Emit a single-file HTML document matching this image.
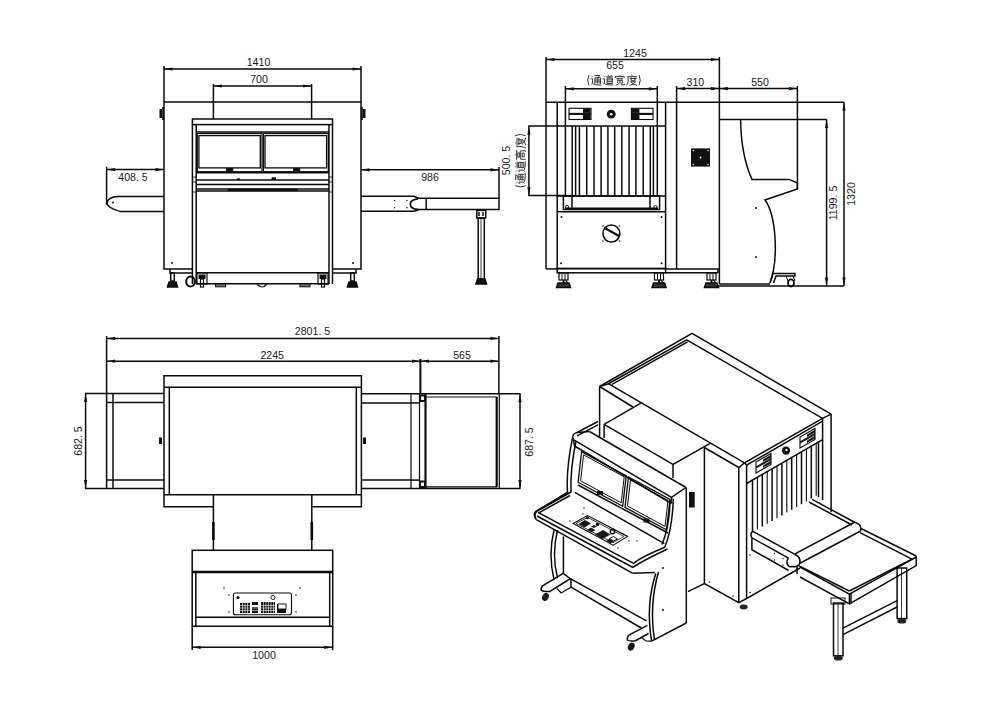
<!DOCTYPE html>
<html><head><meta charset="utf-8"><style>
html,body{margin:0;padding:0;background:#fff;width:1000px;height:707px;overflow:hidden}
svg{display:block}
text{font-family:"Liberation Sans",sans-serif;fill:#1a1a1a;stroke:none}
</style></head><body>
<svg width="1000" height="707" viewBox="0 0 1000 707">
<g stroke="#0a0a0a" stroke-width="1.5" fill="none" stroke-linejoin="miter" stroke-linecap="butt">
<path d="M164.0,69.0 L361.0,69.0" fill="none"/>
<path d="M164.0,69.0 L172.5,67.4 L172.5,70.6Z" fill="#111" stroke="none"/>
<path d="M361.0,69.0 L352.5,70.6 L352.5,67.4Z" fill="#111" stroke="none"/>
<text x="258.5" y="66" font-size="10.6" text-anchor="middle">1410</text>
<path d="M164.0,66.0 L164.0,102.0" fill="none"/>
<path d="M361.0,66.0 L361.0,102.0" fill="none"/>
<path d="M213.4,86.0 L311.6,86.0" fill="none"/>
<path d="M213.4,86.0 L221.9,84.4 L221.9,87.6Z" fill="#111" stroke="none"/>
<path d="M311.6,86.0 L303.1,87.6 L303.1,84.4Z" fill="#111" stroke="none"/>
<text x="259" y="83" font-size="10.6" text-anchor="middle">700</text>
<path d="M213.4,84.0 L213.4,119.0" fill="none"/>
<path d="M311.6,84.0 L311.6,119.0" fill="none"/>
<path d="M192.4,269.0 L164.0,269.0 L164.0,102.0 L361.0,102.0 L361.0,269.0 L332.5,269.0" fill="none"/>
<rect x="159.5" y="109.0" width="2.5" height="9.0" fill="#111" stroke="none"/>
<path d="M163.0,107.0 L163.0,120.0" fill="none" stroke-width="1.6"/>
<rect x="363.0" y="109.0" width="2.5" height="9.0" fill="#111" stroke="none"/>
<path d="M362.0,107.0 L362.0,120.0" fill="none" stroke-width="1.6"/>
<path d="M170.0,269.0 L170.0,273.0 L192.0,273.0" fill="none"/>
<path d="M356.0,269.0 L356.0,273.0 L333.0,273.0" fill="none"/>
<rect x="170.7" y="273.0" width="3.6" height="8.0" fill="none"/>
<path d="M167.5,287 L169.0,282 L176.0,282 L177.5,287Z" fill="#111"/>
<rect x="350.7" y="273.0" width="3.6" height="8.0" fill="none"/>
<path d="M347.5,287 L349.0,282 L356.0,282 L357.5,287Z" fill="#111"/>
<circle cx="172.0" cy="263.0" r="1.0" fill="#111" stroke="none"/>
<circle cx="353.0" cy="263.0" r="1.0" fill="#111" stroke="none"/>
<path d="M164,196.6 L118,196.6 Q108,197 107,203 Q107.5,208 120,211.4 L164,211.4" fill="none"/>
<circle cx="113.0" cy="202.5" r="1.0" fill="#111" stroke="none"/>
<path d="M106.6,169.6 L164.0,169.6" fill="none"/>
<path d="M106.6,169.6 L115.1,168.0 L115.1,171.2Z" fill="#111" stroke="none"/>
<path d="M164.0,169.6 L155.5,171.2 L155.5,168.0Z" fill="#111" stroke="none"/>
<path d="M106.6,167.0 L106.6,205.0" fill="none"/>
<text x="133" y="180.6" font-size="10.6" text-anchor="middle">408. 5</text>
<path d="M361,196.2 L414,196.2 L418.5,198.3" fill="none"/>
<path d="M361,211.3 L413,211.3 Q416.5,211 418.5,209.6" fill="none"/>
<path d="M418,198.8 Q410.3,199.5 410.3,204.2 Q410.5,209 418,209.4" fill="none" stroke-width="1.7"/>
<path d="M418,198.3 L499,198.3 L499,209.6 L418,209.6" fill="none"/>
<path d="M426.2,198.3 L426.2,209.6" fill="none"/>
<circle cx="394.6" cy="200.5" r="0.7" fill="#111" stroke="none"/>
<circle cx="394.6" cy="207.8" r="0.7" fill="#111" stroke="none"/>
<circle cx="406.9" cy="200.5" r="0.7" fill="#111" stroke="none"/>
<circle cx="406.9" cy="207.8" r="0.7" fill="#111" stroke="none"/>
<path d="M361.0,169.8 L499.0,169.8" fill="none"/>
<path d="M361.0,169.8 L369.5,168.2 L369.5,171.4Z" fill="#111" stroke="none"/>
<path d="M499.0,169.8 L490.5,171.4 L490.5,168.2Z" fill="#111" stroke="none"/>
<path d="M499.0,167.0 L499.0,198.5" fill="none"/>
<text x="430" y="180.7" font-size="10.6" text-anchor="middle">986</text>
<rect x="476.8" y="210.4" width="8.9" height="7.6" fill="none"/>
<path d="M479.0,212.0 L479.0,216.0" fill="none"/>
<path d="M483.0,212.0 L483.0,216.0" fill="none"/>
<rect x="478.2" y="218.0" width="6.1" height="61.0" fill="none"/>
<path d="M481.0,218.0 L481.0,279.0" fill="none" stroke-width="0.8"/>
<path d="M476,284 L477.5,279 L485,279 L486.5,284Z" fill="#111"/>
<rect x="192.4" y="119.0" width="140.1" height="5.6" fill="none"/>
<path d="M192.4,124.6 L192.4,284.0" fill="none"/>
<path d="M196.2,124.6 L196.2,284.0" fill="none"/>
<path d="M329.0,124.6 L329.0,284.0" fill="none"/>
<path d="M332.5,124.6 L332.5,284.0" fill="none"/>
<path d="M196.2,131.9 L329.0,131.9" fill="none"/>
<rect x="197.3" y="133.5" width="64.7" height="38.2" fill="none" stroke-width="1.2"/>
<rect x="198.9" y="135.6" width="61.4" height="32.3" fill="none" stroke-width="1.3"/>
<rect x="226.0" y="168.0" width="7.2" height="3.5" fill="#111" stroke="none"/>
<rect x="263.4" y="133.5" width="64.9" height="38.2" fill="none" stroke-width="1.2"/>
<rect x="265.0" y="135.6" width="61.6" height="32.3" fill="none" stroke-width="1.3"/>
<rect x="293.0" y="168.0" width="7.2" height="3.5" fill="#111" stroke="none"/>
<path d="M196.2,172.6 L329.0,172.6" fill="none" stroke-width="1.7"/>
<rect x="271.6" y="177.3" width="4.4" height="2.7" fill="#111" stroke="none"/>
<rect x="237.0" y="178.3" width="3.0" height="1.7" fill="#111" stroke="none"/>
<path d="M196.2,180.0 L329.0,180.0" fill="none"/>
<path d="M196.2,184.5 L329.0,184.5" fill="none"/>
<path d="M196.2,189.0 L329.0,189.0" fill="none"/>
<path d="M196.2,191.0 L329.0,191.0" fill="none"/>
<rect x="227.6" y="188.6" width="70.1" height="2.4" fill="#111" stroke="none"/>
<path d="M196.2,272.8 L329.0,272.8" fill="none" stroke-width="1.6"/>
<path d="M196.2,283.7 L329.0,283.7" fill="none" stroke-width="1.6"/>
<path d="M192.4,177.0 L196.2,177.0" fill="none" stroke-width="0.8"/>
<path d="M192.4,182.0 L196.2,182.0" fill="none" stroke-width="0.8"/>
<path d="M192.4,192.0 L196.2,192.0" fill="none" stroke-width="0.8"/>
<path d="M328.9,177.0 L332.7,177.0" fill="none" stroke-width="0.8"/>
<path d="M328.9,182.0 L332.7,182.0" fill="none" stroke-width="0.8"/>
<path d="M328.9,192.0 L332.7,192.0" fill="none" stroke-width="0.8"/>
<ellipse cx="190.5" cy="281.6" rx="4.3" ry="5" fill="none" stroke-width="2"/>
<rect x="197.0" y="273.0" width="10.0" height="11.0" fill="none" stroke-width="1.2"/>
<rect x="198.5" y="274.5" width="7.0" height="4.5" fill="#111" stroke="none"/>
<rect x="200.5" y="279.0" width="3.0" height="8.0" fill="none" stroke-width="1.2"/>
<rect x="318.0" y="273.0" width="10.0" height="11.0" fill="none" stroke-width="1.2"/>
<rect x="319.5" y="274.5" width="7.0" height="4.5" fill="#111" stroke="none"/>
<rect x="321.5" y="279.0" width="3.0" height="8.0" fill="none" stroke-width="1.2"/>
<rect x="215.6" y="284.0" width="10.0" height="2.8" fill="#777" stroke-width="1.0"/>
<rect x="300.0" y="284.0" width="10.0" height="2.8" fill="#777" stroke-width="1.0"/>
<path d="M257,284 Q262,290 267,284" fill="none" stroke-width="1.2"/>
<path d="M546.0,59.5 L719.4,59.5" fill="none"/>
<path d="M546.0,59.5 L554.5,57.9 L554.5,61.1Z" fill="#111" stroke="none"/>
<path d="M719.4,59.5 L710.9,61.1 L710.9,57.9Z" fill="#111" stroke="none"/>
<text x="635" y="56.5" font-size="10.6" text-anchor="middle">1245</text>
<path d="M546.0,57.0 L546.0,269.0" fill="none"/>
<path d="M719.4,57.0 L719.4,284.0" fill="none"/>
<text x="615" y="69" font-size="10.6" text-anchor="middle">655</text>
<path d="M565.4,88.8 L657.3,88.8" fill="none"/>
<path d="M565.4,88.8 L573.9,87.2 L573.9,90.4Z" fill="#111" stroke="none"/>
<path d="M657.3,88.8 L648.8,90.4 L648.8,87.2Z" fill="#111" stroke="none"/>
<path d="M565.4,86.0 L565.4,196.0" fill="none"/>
<path d="M657.3,86.0 L657.3,196.0" fill="none"/>
<path d="M676.6,88.6 L719.4,88.6" fill="none"/>
<path d="M676.6,88.6 L685.1,87.0 L685.1,90.2Z" fill="#111" stroke="none"/>
<path d="M719.4,88.6 L710.9,90.2 L710.9,87.0Z" fill="#111" stroke="none"/>
<text x="695.4" y="86" font-size="10.6" text-anchor="middle">310</text>
<path d="M676.6,86.0 L676.6,269.0" fill="none"/>
<path d="M719.4,88.6 L797.4,88.6" fill="none"/>
<path d="M719.4,88.6 L727.9,87.0 L727.9,90.2Z" fill="#111" stroke="none"/>
<path d="M797.4,88.6 L788.9,90.2 L788.9,87.0Z" fill="#111" stroke="none"/>
<text x="760" y="86" font-size="10.6" text-anchor="middle">550</text>
<path d="M797.4,86.0 L797.4,189.0" fill="none"/>
<path d="M546.0,102.3 L844.0,102.3" fill="none"/>
<path d="M844.0,102.3 L844.0,286.0" fill="none"/>
<path d="M844.0,102.3 L845.6,110.8 L842.4,110.8Z" fill="#111" stroke="none"/>
<path d="M844.0,286.0 L842.4,277.5 L845.6,277.5Z" fill="#111" stroke="none"/>
<text x="855" y="194" font-size="10.6" text-anchor="middle" transform="rotate(-90 855 194)">1320</text>
<path d="M826.6,119.4 L826.6,286.0" fill="none"/>
<path d="M826.6,119.4 L828.2,127.9 L825.0,127.9Z" fill="#111" stroke="none"/>
<path d="M826.6,286.0 L825.0,277.5 L828.2,277.5Z" fill="#111" stroke="none"/>
<text x="837" y="203" font-size="10.6" text-anchor="middle" transform="rotate(-90 837 203)">1199. 5</text>
<path d="M719.4,119.4 L826.6,119.4" fill="none"/>
<path d="M707.0,286.0 L844.0,286.0" fill="none"/>
<path d="M528.9,126.3 L528.9,195.5" fill="none"/>
<path d="M528.9,126.3 L530.5,134.8 L527.3,134.8Z" fill="#111" stroke="none"/>
<path d="M528.9,195.5 L527.3,187.0 L530.5,187.0Z" fill="#111" stroke="none"/>
<path d="M528.2,195.5 L565.4,195.5" fill="none"/>
<text x="509.5" y="160.5" font-size="10.6" text-anchor="middle" transform="rotate(-90 509.5 160.5)">500. 5</text>
<path d="M557.2,102.3 L557.2,269.0" fill="none"/>
<path d="M665.6,102.3 L665.6,269.0" fill="none"/>
<path d="M528.2,126.0 L665.6,126.0" fill="none"/>
<rect x="569.0" y="108.3" width="22.0" height="5.1" fill="none" stroke-width="1.1"/>
<rect x="583.0" y="108.8" width="7.5" height="4.1" fill="#111" stroke="none"/>
<rect x="569.0" y="114.4" width="22.0" height="5.1" fill="none" stroke-width="1.1"/>
<rect x="583.0" y="114.9" width="7.5" height="4.1" fill="#111" stroke="none"/>
<rect x="631.4" y="108.3" width="21.6" height="5.1" fill="none" stroke-width="1.1"/>
<rect x="631.9" y="108.8" width="7.5" height="4.1" fill="#111" stroke="none"/>
<rect x="631.4" y="114.4" width="21.6" height="5.1" fill="none" stroke-width="1.1"/>
<rect x="631.9" y="114.9" width="7.5" height="4.1" fill="#111" stroke="none"/>
<circle cx="611.2" cy="114.2" r="4.4" fill="#111" stroke="none"/>
<circle cx="611.2" cy="114.2" r="1.3" fill="#fff" stroke="none"/>
<path d="M572.2,126.0 L572.2,196.0" fill="none"/>
<path d="M575.6,126.0 L575.6,196.0" fill="none"/>
<path d="M579.4,126.0 L579.4,196.0" fill="none"/>
<path d="M586.7,126.0 L586.7,196.0" fill="none"/>
<path d="M594.0,126.0 L594.0,196.0" fill="none"/>
<path d="M601.1,126.0 L601.1,196.0" fill="none"/>
<path d="M607.9,126.0 L607.9,196.0" fill="none"/>
<path d="M614.7,126.0 L614.7,196.0" fill="none"/>
<path d="M621.8,126.0 L621.8,196.0" fill="none"/>
<path d="M629.1,126.0 L629.1,196.0" fill="none"/>
<path d="M635.9,126.0 L635.9,196.0" fill="none"/>
<path d="M643.2,126.0 L643.2,196.0" fill="none"/>
<path d="M650.3,126.0 L650.3,196.0" fill="none"/>
<path d="M653.4,126.0 L653.4,196.0" fill="none"/>
<path d="M557.2,196.0 L665.6,196.0" fill="none"/>
<rect x="563.4" y="196.0" width="96.2" height="13.5" fill="none"/>
<path d="M572.0,196.0 L572.0,208.0" fill="none"/>
<path d="M650.0,196.0 L650.0,208.0" fill="none"/>
<path d="M565.0,208.8 L658.0,208.8" fill="none" stroke-width="2.6"/>
<path d="M557.2,211.8 L665.6,211.8" fill="none"/>
<circle cx="567.0" cy="207.0" r="1.6" fill="none" stroke-width="0.9"/>
<circle cx="655.5" cy="207.0" r="1.6" fill="none" stroke-width="0.9"/>
<path d="M557.2,268.6 L665.6,268.6" fill="none"/>
<path d="M546.0,268.9 L557.2,268.9" fill="none"/>
<rect x="557.2" y="268.6" width="108.4" height="4.2" fill="none"/>
<circle cx="561.5" cy="217.0" r="1.0" fill="#111" stroke="none"/>
<circle cx="661.5" cy="217.0" r="1.0" fill="#111" stroke="none"/>
<circle cx="561.0" cy="263.3" r="1.0" fill="#111" stroke="none"/>
<circle cx="661.5" cy="263.3" r="1.0" fill="#111" stroke="none"/>
<circle cx="611.4" cy="233.6" r="8.5" fill="none"/>
<path d="M604.0,227.5 L619.0,236.0" fill="none" stroke-width="2.2"/>
<circle cx="603.0" cy="226.0" r="0.8" fill="#111" stroke="none"/>
<circle cx="619.5" cy="226.0" r="0.8" fill="#111" stroke="none"/>
<circle cx="603.0" cy="241.0" r="0.8" fill="#111" stroke="none"/>
<circle cx="619.5" cy="241.0" r="0.8" fill="#111" stroke="none"/>
<rect x="559.0" y="273.0" width="9.0" height="7.0" fill="none" stroke-width="1.2"/>
<path d="M562.0,274.0 L562.0,280.0" fill="none" stroke-width="1.0"/>
<path d="M565.0,274.0 L565.0,280.0" fill="none" stroke-width="1.0"/>
<rect x="562.5" y="280.0" width="2.0" height="3.0" fill="#111" stroke="none"/>
<path d="M556.5,287.5 L558.0,283 L569.0,283 L570.5,287.5Z" fill="#333"/>
<path d="M565.5,280.0 L568.5,284.0" fill="none" stroke-width="1.2"/>
<rect x="654.5" y="273.0" width="9.0" height="7.0" fill="none" stroke-width="1.2"/>
<path d="M657.5,274.0 L657.5,280.0" fill="none" stroke-width="1.0"/>
<path d="M660.5,274.0 L660.5,280.0" fill="none" stroke-width="1.0"/>
<rect x="658.0" y="280.0" width="2.0" height="3.0" fill="#111" stroke="none"/>
<path d="M652,287.5 L653.5,283 L664.5,283 L666,287.5Z" fill="#333"/>
<path d="M661.0,280.0 L664.0,284.0" fill="none" stroke-width="1.2"/>
<rect x="707.0" y="273.0" width="9.0" height="7.0" fill="none" stroke-width="1.2"/>
<path d="M710.0,274.0 L710.0,280.0" fill="none" stroke-width="1.0"/>
<path d="M713.0,274.0 L713.0,280.0" fill="none" stroke-width="1.0"/>
<rect x="710.5" y="280.0" width="2.0" height="3.0" fill="#111" stroke="none"/>
<path d="M704.5,287.5 L706.0,283 L717.0,283 L718.5,287.5Z" fill="#333"/>
<path d="M713.5,280.0 L716.5,284.0" fill="none" stroke-width="1.2"/>
<rect x="691.0" y="148.4" width="19.0" height="18.2" fill="#111" stroke="none"/>
<circle cx="693.3" cy="150.5" r="0.7" fill="#fff" stroke="none"/>
<circle cx="708" cy="150.5" r="0.7" fill="#fff" stroke="none"/>
<circle cx="693.3" cy="164.5" r="0.7" fill="#fff" stroke="none"/>
<circle cx="708" cy="164.5" r="0.7" fill="#fff" stroke="none"/>
<circle cx="700.5" cy="157.5" r="0.9" fill="#fff" stroke="none"/>
<path d="M665.6,269.0 L719.4,269.0" fill="none"/>
<path d="M665.6,272.8 L718.0,272.8" fill="none"/>
<path d="M718.0,269.0 L718.0,273.0" fill="none"/>
<path d="M740.6,119.4 Q741,155 752,179.4 L789,179.4 L797.4,183 L797.4,189 L765,200 C776,215 779,258 770,283" fill="none"/>
<path d="M719.4,284.0 L770.0,284.0" fill="none"/>
<path d="M770,283 L773,273.5 L795,273.5 L795,276 L776,276 L773.5,283" fill="none"/>
<ellipse cx="791" cy="283" rx="3" ry="3.6" fill="none" stroke-width="1.8"/>
<path d="M786,276 L788,281 M793,276 L795,281" fill="none" stroke-width="1"/>
<circle cx="756.0" cy="208.0" r="1.0" fill="#111" stroke="none"/>
<circle cx="756.0" cy="257.0" r="1.0" fill="#111" stroke="none"/>
<path d="M106.6,338.4 L498.9,338.4" fill="none"/>
<path d="M106.6,338.4 L115.1,336.8 L115.1,340.0Z" fill="#111" stroke="none"/>
<path d="M498.9,338.4 L490.4,340.0 L490.4,336.8Z" fill="#111" stroke="none"/>
<text x="312.5" y="334.5" font-size="10.6" text-anchor="middle">2801. 5</text>
<path d="M106.6,336.0 L106.6,393.6" fill="none"/>
<path d="M498.9,336.0 L498.9,393.8" fill="none"/>
<path d="M106.6,361.2 L420.5,361.2" fill="none"/>
<path d="M106.6,361.2 L115.1,359.6 L115.1,362.8Z" fill="#111" stroke="none"/>
<path d="M420.5,361.2 L412.0,362.8 L412.0,359.6Z" fill="#111" stroke="none"/>
<text x="272.2" y="358.5" font-size="10.6" text-anchor="middle">2245</text>
<path d="M420.5,361.2 L498.9,361.2" fill="none"/>
<path d="M420.5,361.2 L429.0,359.6 L429.0,362.8Z" fill="#111" stroke="none"/>
<path d="M498.9,361.2 L490.4,362.8 L490.4,359.6Z" fill="#111" stroke="none"/>
<text x="462" y="358.5" font-size="10.6" text-anchor="middle">565</text>
<path d="M420.4,359.0 L420.4,394.0" fill="none" stroke-width="2"/>
<path d="M213.4,506.8 L164.0,506.8 L164.0,375.7 L361.4,375.7 L361.4,506.8 L311.8,506.8" fill="none"/>
<path d="M164.0,387.2 L361.4,387.2" fill="none"/>
<path d="M169.3,387.2 L169.3,494.7" fill="none"/>
<path d="M356.3,387.2 L356.3,494.7" fill="none"/>
<path d="M164.0,494.7 L361.4,494.7" fill="none"/>
<rect x="159.0" y="437.5" width="3.0" height="6.5" fill="#111" stroke="none"/>
<rect x="363.0" y="437.5" width="3.0" height="6.5" fill="#111" stroke="none"/>
<path d="M85.0,393.6 L164.0,393.6" fill="none"/>
<path d="M106.6,402.6 L164.0,402.6" fill="none"/>
<path d="M106.6,480.0 L164.0,480.0" fill="none"/>
<path d="M85.0,488.6 L164.0,488.6" fill="none"/>
<path d="M106.6,393.6 L106.6,488.6" fill="none"/>
<path d="M113.0,393.6 L113.0,488.6" fill="none"/>
<path d="M85.6,393.6 L85.6,488.6" fill="none"/>
<path d="M85.6,393.6 L87.2,402.1 L84.0,402.1Z" fill="#111" stroke="none"/>
<path d="M85.6,488.6 L84.0,480.1 L87.2,480.1Z" fill="#111" stroke="none"/>
<text x="82" y="441" font-size="10.6" text-anchor="middle" transform="rotate(-90 82 441)">682. 5</text>
<path d="M361.4,393.8 L520.5,393.8" fill="none"/>
<path d="M361.4,402.9 L411.0,402.9" fill="none"/>
<path d="M361.4,480.1 L411.0,480.1" fill="none"/>
<path d="M361.4,488.4 L520.5,488.4" fill="none"/>
<path d="M411.0,393.8 L411.0,488.4" fill="none" stroke-width="1.2"/>
<path d="M419.5,393.8 L419.5,488.4" fill="none" stroke-width="1.2"/>
<path d="M411.0,402.9 L419.5,402.9" fill="none"/>
<path d="M411.0,480.1 L419.5,480.1" fill="none"/>
<path d="M425.5,394.0 L425.5,488.4" fill="none" stroke-width="2.2"/>
<path d="M425.5,397.0 L497.0,397.0" fill="none" stroke-width="1.2"/>
<path d="M425.5,486.9 L497.0,486.9" fill="none" stroke-width="1.2"/>
<path d="M496.7,397.0 L496.7,487.0" fill="none" stroke-width="2.2"/>
<path d="M499.3,393.8 L499.3,488.4" fill="none" stroke-width="1.2"/>
<rect x="419.5" y="394.5" width="6.0" height="7.5" fill="#111" stroke="none"/>
<rect x="421" y="396.5" width="3" height="3.5" fill="#fff" stroke="none"/>
<rect x="419.5" y="480.5" width="6.0" height="7.5" fill="#111" stroke="none"/>
<rect x="421" y="482.5" width="3" height="3.5" fill="#fff" stroke="none"/>
<path d="M520.0,393.8 L520.0,488.4" fill="none"/>
<path d="M520.0,393.8 L521.6,402.3 L518.4,402.3Z" fill="#111" stroke="none"/>
<path d="M520.0,488.4 L518.4,479.9 L521.6,479.9Z" fill="#111" stroke="none"/>
<text x="533" y="442" font-size="10.6" text-anchor="middle" transform="rotate(-90 533 442)">687. 5</text>
<path d="M213.4,494.7 L213.4,550.3" fill="none"/>
<path d="M311.8,494.7 L311.8,550.3" fill="none"/>
<path d="M213.4,522.0 L213.4,540.0" fill="none" stroke-width="2.6"/>
<path d="M311.8,522.0 L311.8,540.0" fill="none" stroke-width="2.6"/>
<rect x="192.2" y="550.3" width="140.5" height="75.9" fill="none"/>
<path d="M192.2,572.0 L332.7,572.0" fill="none" stroke-width="2.4"/>
<path d="M195.8,572.0 L195.8,626.2" fill="none"/>
<path d="M329.7,572.0 L329.7,626.2" fill="none"/>
<path d="M195.8,617.3 L329.7,617.3" fill="none"/>
<path d="M192.2,626.2 L192.2,650.0" fill="none"/>
<path d="M332.7,626.2 L332.7,650.0" fill="none"/>
<path d="M192.2,647.3 L332.7,647.3" fill="none"/>
<path d="M192.2,647.3 L200.7,645.7 L200.7,648.9Z" fill="#111" stroke="none"/>
<path d="M332.7,647.3 L324.2,648.9 L324.2,645.7Z" fill="#111" stroke="none"/>
<text x="264" y="658.5" font-size="10.6" text-anchor="middle">1000</text>
<path d="M235.5,593 L289.5,593 Q291.5,593 291.5,595 L291.5,612.7 Q291.5,614.7 289.5,614.7 L235.5,614.7 Q233.4,614.7 233.4,612.7 L233.4,595 Q233.4,593 235.5,593Z" fill="none" stroke-width="1.1"/>
<circle cx="224.0" cy="588.0" r="0.8" fill="#111" stroke="none"/>
<circle cx="229.0" cy="595.0" r="0.8" fill="#111" stroke="none"/>
<circle cx="229.0" cy="612.0" r="0.8" fill="#111" stroke="none"/>
<circle cx="300.0" cy="588.0" r="0.8" fill="#111" stroke="none"/>
<circle cx="296.0" cy="595.0" r="0.8" fill="#111" stroke="none"/>
<circle cx="296.0" cy="612.0" r="0.8" fill="#111" stroke="none"/>
<circle cx="238.0" cy="597.5" r="1.6" fill="#111" stroke="none"/>
<rect x="240.0" y="603.0" width="10.0" height="10.0" fill="#111" stroke="none"/>
<rect x="252.0" y="602.0" width="6.0" height="3.0" fill="#111" stroke="none"/>
<rect x="252.0" y="607.0" width="6.0" height="6.0" fill="#111" stroke="none"/>
<rect x="261.0" y="602.0" width="14.0" height="11.0" fill="#111" stroke="none"/>
<rect x="277.0" y="604.0" width="9.0" height="9.0" fill="#111" stroke="none"/>
<g stroke="#fff" stroke-width="0.6"><path d="M242.5,602 L242.5,613"/><path d="M245,602 L245,613"/><path d="M247.5,602 L247.5,613"/><path d="M263.5,602 L263.5,613"/><path d="M266,602 L266,613"/><path d="M268.5,602 L268.5,613"/><path d="M271,602 L271,613"/><path d="M273.5,602 L273.5,613"/><path d="M240,605.5 L275,605.5"/><path d="M240,608 L275,608"/><path d="M240,610.5 L275,610.5"/></g>
<rect x="278.0" y="604.0" width="8.0" height="5.0" fill="#fff" stroke-width="0.9"/>
<circle cx="273.0" cy="597.5" r="2.0" fill="none" stroke-width="0.9"/>
<g transform="translate(614,80.1) rotate(0) translate(-29.26,-5.30)" stroke="#333"><path transform="translate(0.42,0) scale(1.060)" d="M3.6,0 Q1.2,5 3.6,10" stroke-width="0.94"/><path transform="translate(5.72,0) scale(1.060)" d="M0.8,0.8 L1.9,1.9 M0.2,3.8 L2,3.8 L2,7.8 L0.6,9 M1.8,8.2 Q3,9.6 10.3,9.6 M3.9,0.6 L9,0.6 L7.2,2.1 M4.2,2.8 L9.4,2.8 L9.4,8.3 L8.6,8.1 M4.2,2.8 L4.2,8.6 M4.2,4.9 L9.4,4.9 M4.2,6.7 L9.4,6.7 M6.8,2.1 L6.8,8.4" stroke-width="0.94"/><path transform="translate(17.70,0) scale(1.060)" d="M0.8,0.8 L1.9,1.9 M0.2,3.8 L2,3.8 L2,7.8 L0.6,9 M1.8,8.2 Q3,9.6 10.3,9.6 M5,0.2 L5.8,1.2 M8.6,0.2 L7.8,1.2 M3.6,1.9 L10,1.9 M6.6,1.9 L6.1,3 M4.4,3.1 L9.3,3.1 L9.3,8.2 L4.4,8.2Z M4.4,4.8 L9.3,4.8 M4.4,6.5 L9.3,6.5" stroke-width="0.94"/><path transform="translate(29.68,0) scale(1.060)" d="M5,0 L5.4,1 M0.8,3 L0.8,1.7 L9.2,1.7 L9.2,3 M1.8,3.7 L8.2,3.7 M3.5,2.9 L3.5,4.6 M6.5,2.9 L6.5,4.6 M3,5.3 L7.5,5.3 L7.5,8.1 M3,5.3 L3,7.8 M5.2,5.3 L5.2,7 Q4.3,9 1.2,9.9 M6.3,7 L6.3,9.4 L9.6,9.4 L9.6,8.4" stroke-width="0.94"/><path transform="translate(41.66,0) scale(1.060)" d="M5,0 L5.5,1 M1,1.8 L10,1.8 M1.6,1.8 L1.6,6 Q1.4,8.5 0.2,10 M3,3.6 L9.7,3.6 M4.6,2.5 L4.6,5.6 L8.1,5.6 L8.1,2.5 M3.6,6.6 L8.6,6.6 Q7.2,9 3,10 M4.6,7.2 Q6.3,9.2 10,10" stroke-width="0.94"/><path transform="translate(53.64,0) scale(1.060)" d="M0.6,0 Q3,5 0.6,10" stroke-width="0.94"/></g>
<g transform="translate(520.4,160.7) rotate(-90) translate(-29.26,-5.30)" stroke="#333"><path transform="translate(0.42,0) scale(1.060)" d="M3.6,0 Q1.2,5 3.6,10" stroke-width="0.94"/><path transform="translate(5.72,0) scale(1.060)" d="M0.8,0.8 L1.9,1.9 M0.2,3.8 L2,3.8 L2,7.8 L0.6,9 M1.8,8.2 Q3,9.6 10.3,9.6 M3.9,0.6 L9,0.6 L7.2,2.1 M4.2,2.8 L9.4,2.8 L9.4,8.3 L8.6,8.1 M4.2,2.8 L4.2,8.6 M4.2,4.9 L9.4,4.9 M4.2,6.7 L9.4,6.7 M6.8,2.1 L6.8,8.4" stroke-width="0.94"/><path transform="translate(17.70,0) scale(1.060)" d="M0.8,0.8 L1.9,1.9 M0.2,3.8 L2,3.8 L2,7.8 L0.6,9 M1.8,8.2 Q3,9.6 10.3,9.6 M5,0.2 L5.8,1.2 M8.6,0.2 L7.8,1.2 M3.6,1.9 L10,1.9 M6.6,1.9 L6.1,3 M4.4,3.1 L9.3,3.1 L9.3,8.2 L4.4,8.2Z M4.4,4.8 L9.3,4.8 M4.4,6.5 L9.3,6.5" stroke-width="0.94"/><path transform="translate(29.68,0) scale(1.060)" d="M5,0 L5.5,0.8 M0.4,1.5 L9.6,1.5 M3,2.5 L7,2.5 L7,4.3 L3,4.3Z M1,5.3 L1,10 M1,5.3 L9,5.3 L9,9.5 L8,9.9 M3.3,6.6 L6.7,6.6 L6.7,8.6 L3.3,8.6Z" stroke-width="0.94"/><path transform="translate(41.66,0) scale(1.060)" d="M5,0 L5.5,1 M1,1.8 L10,1.8 M1.6,1.8 L1.6,6 Q1.4,8.5 0.2,10 M3,3.6 L9.7,3.6 M4.6,2.5 L4.6,5.6 L8.1,5.6 L8.1,2.5 M3.6,6.6 L8.6,6.6 Q7.2,9 3,10 M4.6,7.2 Q6.3,9.2 10,10" stroke-width="0.94"/><path transform="translate(53.64,0) scale(1.060)" d="M0.6,0 Q3,5 0.6,10" stroke-width="0.94"/></g>
<path d="M599.6,386.5 L692.0,333.4 L831.1,414.1" fill="none"/>
<path d="M831.1,414.1 L822.6,418.4" fill="none"/>
<path d="M599.6,386.5 L608.4,383.7 L686.7,339.8 L822.6,418.4" fill="none"/>
<path d="M612.0,384.3 L687.6,341.8" fill="none"/>
<path d="M608.4,383.7 L744.5,462.8" fill="none"/>
<path d="M822.6,418.4 L744.5,462.8" fill="none"/>
<path d="M738.8,467.5 L744.5,462.8" fill="none"/>
<path d="M599.6,386.5 L633.0,407.0" fill="none"/>
<path d="M704.4,447.5 L738.8,467.5" fill="none"/>
<path d="M604.1,424.3 L640.9,403.1" fill="none"/>
<path d="M604.1,424.3 L673.0,464.5 L711.0,442.8" fill="none"/>
<path d="M599.6,386.5 L599.6,437.0" fill="none"/>
<path d="M604.1,424.3 L604.1,438.0" fill="none"/>
<path d="M673.0,464.5 L673.0,478.0" fill="none"/>
<path d="M704.4,447.5 L704.4,583.6" fill="none"/>
<path d="M738.8,467.5 L738.8,602.7" fill="none"/>
<path d="M744.5,462.8 L746.6,465.0 L746.6,599.0" fill="none"/>
<path d="M822.6,418.4 L822.6,500.0" fill="none"/>
<path d="M831.1,414.1 L831.1,512.0" fill="none"/>
<path d="M688.0,591.6 L704.4,583.6 L738.8,602.7 L746.6,598.5 L800.0,568.0" fill="none"/>
<path d="M822.6,421.2 L746.6,465.2" fill="none"/>
<path d="M822.6,439.6 L746.6,483.5" fill="none"/>
<path d="M752.5,480.2 L752.5,532.0" fill="none" stroke-width="1.5"/>
<path d="M757.4,477.3 L757.4,529.3" fill="none" stroke-width="1.1"/>
<path d="M762.3,474.5 L762.3,526.5" fill="none" stroke-width="1.5"/>
<path d="M767.2,471.7 L767.2,523.8" fill="none" stroke-width="1.1"/>
<path d="M772.1,468.8 L772.1,521.0" fill="none" stroke-width="1.5"/>
<path d="M777.0,466.0 L777.0,518.2" fill="none" stroke-width="1.1"/>
<path d="M781.9,463.1 L781.9,515.4" fill="none" stroke-width="1.5"/>
<path d="M786.8,460.3 L786.8,512.6" fill="none" stroke-width="1.1"/>
<path d="M791.7,457.5 L791.7,509.8" fill="none" stroke-width="1.5"/>
<path d="M796.6,454.6 L796.6,507.0" fill="none" stroke-width="1.1"/>
<path d="M801.5,451.8 L801.5,504.2" fill="none" stroke-width="1.5"/>
<path d="M806.4,449.0 L806.4,501.4" fill="none" stroke-width="1.1"/>
<path d="M811.3,446.1 L811.3,498.6" fill="none" stroke-width="1.5"/>
<path d="M816.2,443.3 L816.2,495.8" fill="none" stroke-width="1.1"/>
<path d="M818.5,441.5 L818.5,497.0" fill="none"/>
<path d="M756.0,462.0 L771.0,453.4 L771.0,458.4 L756.0,467.0Z" fill="none" stroke-width="1.1"/>
<path d="M756.0,468.0 L771.0,459.4 L771.0,464.4 L756.0,473.0Z" fill="none" stroke-width="1.1"/>
<path d="M763,459.4 L771,454.8 L771,457.4 L763,462Z M763,465.4 L771,460.8 L771,463.4 L763,468Z" fill="#1a1a1a" stroke="none"/>
<path d="M800.0,437.0 L815.0,428.4 L815.0,433.4 L800.0,442.0Z" fill="none" stroke-width="1.1"/>
<path d="M800.0,443.0 L815.0,434.4 L815.0,439.4 L800.0,448.0Z" fill="none" stroke-width="1.1"/>
<path d="M807,434.4 L815,429.8 L815,432.4 L807,437Z M807,440.4 L815,435.8 L815,438.4 L807,443Z" fill="#1a1a1a" stroke="none"/>
<circle cx="786.0" cy="450.6" r="4.2" fill="#111" stroke="none"/>
<circle cx="786.5" cy="450" r="1.2" fill="#fff" stroke="none"/>
<path d="M812.1,499.4 L855.0,522.5" fill="none"/>
<path d="M809.0,502.0 L852.0,525.0" fill="none"/>
<path d="M855,522.5 Q862,524 860.6,531" fill="none"/>
<path d="M855.0,522.0 L794.5,554.2" fill="none"/>
<path d="M860.6,531.0 L799.5,563.5" fill="none"/>
<path d="M752.9,531.4 L794.5,554.2" fill="none"/>
<path d="M751.9,537.8 L788.6,558.1" fill="none"/>
<path d="M752.9,531.4 Q749.5,533.5 751.9,537.8" fill="none"/>
<path d="M751.9,537.8 L751.9,549.7 L788.6,570.5" fill="none"/>
<path d="M794.5,554.2 Q801.5,557 799.5,564 Q797.5,567.5 792,566.5" fill="none"/>
<path d="M788.6,558.1 Q785.5,561.5 788,565.5 Q790,567.5 792,566.5" fill="none"/>
<path d="M797.0,566.0 L797.0,574.0" fill="none"/>
<circle cx="774.5" cy="553.5" r="0.7" fill="#111" stroke="none"/>
<circle cx="774.5" cy="560.0" r="0.7" fill="#111" stroke="none"/>
<circle cx="783.0" cy="558.5" r="0.7" fill="#111" stroke="none"/>
<circle cx="783.0" cy="565.0" r="0.7" fill="#111" stroke="none"/>
<path d="M861.0,528.5 L916.2,556.0" fill="none"/>
<path d="M860.0,532.7 L912.0,559.2" fill="none"/>
<path d="M800.0,567.0 L849.4,594.2 L916.2,557.1 L916.2,565.6 L849.4,603.8 L800.0,577.0" fill="none"/>
<path d="M798.5,565.6 L849.4,591.0" fill="none"/>
<path d="M849.4,594.2 L849.4,603.8" fill="none"/>
<path d="M851.0,593.5 L851.0,603.0" fill="none"/>
<path d="M912.0,559.2 L849.4,591.0" fill="none"/>
<rect x="833.5" y="603.0" width="9.5" height="52.8" fill="none"/>
<path d="M838.0,603.0 L838.0,655.8" fill="none" stroke-width="0.8"/>
<ellipse cx="838.3" cy="658" rx="4.5" ry="2.6" fill="#222" stroke="none"/>
<rect x="897.1" y="568.0" width="9.6" height="50.6" fill="none"/>
<path d="M901.5,568.0 L901.5,618.6" fill="none" stroke-width="0.8"/>
<ellipse cx="901.8" cy="621" rx="4.5" ry="2.6" fill="#222" stroke="none"/>
<path d="M843.0,628.2 L897.1,600.6" fill="none"/>
<path d="M843.0,634.6 L897.1,607.0" fill="none"/>
<rect x="831.0" y="598.0" width="14.0" height="6.0" fill="none" stroke-width="1"/>
<ellipse cx="743.7" cy="607" rx="4" ry="2.4" fill="#222" stroke="none"/>
<circle cx="709.6" cy="582.0" r="0.8" fill="#111" stroke="none"/>
<circle cx="733.0" cy="596.0" r="0.8" fill="#111" stroke="none"/>
<circle cx="750.0" cy="555.0" r="0.8" fill="#111" stroke="none"/>
<circle cx="750.0" cy="592.5" r="0.8" fill="#111" stroke="none"/>
<path d="M573.4,439.6 Q571,434 577,432.5 L598,421.5" fill="none"/>
<path d="M577.0,435.8 L598.0,424.8" fill="none"/>
<path d="M577.0,432.5 L589.5,431.5" fill="none"/>
<path d="M589.5,431.5 L686.0,487.5" fill="none"/>
<path d="M573.4,439.6 L671.5,497.3 L686.0,487.5" fill="none"/>
<path d="M574.5,446.0 L671.5,503.5" fill="none"/>
<path d="M571.5,503.5 L571.5,503.5" fill="none"/>
<path d="M671.5,497.3 L671.5,503.5" fill="none"/>
<path d="M573.4,439.6 L574.5,446" fill="none"/>
<path d="M686.3,487.5 L686.3,623.0" fill="none"/>
<path d="M686.3,623.0 L651.6,641.1" fill="none"/>
<rect x="689.0" y="492.0" width="5.7" height="15.5" fill="#111" stroke="none"/>
<path d="M572.4,438.4 Q566,470 567.5,492.1 L538,510.5 Q533,514 536,519" fill="none"/>
<path d="M576,441 Q570,470 571,492 L541,509" fill="none"/>
<path d="M581.6,451.8 L626.2,475.9 L622.7,506.3 L578.1,482.2Z" fill="none" stroke-width="1.3"/>
<path d="M583.6,454.8 L624.2,476.8 L621.2,502.8 L580.6,480.8Z" fill="none" stroke-width="1.0"/>
<path d="M628.5,477.0 L670.0,499.4 L666.5,529.8 L625.0,507.4Z" fill="none" stroke-width="1.3"/>
<path d="M630.5,480.0 L668.0,500.4 L665.0,526.4 L627.5,506.0Z" fill="none" stroke-width="1.0"/>
<rect x="597.0" y="491.0" width="6.0" height="4.0" fill="#111" stroke="none"/>
<rect x="643.5" y="518.5" width="6.0" height="4.0" fill="#111" stroke="none"/>
<path d="M578.0,485.0 L668.0,533.0" fill="none"/>
<path d="M673.3,498.8 Q672.5,528 664.8,547.3" fill="none"/>
<path d="M670,500.5 Q669.5,527 662,544.5" fill="none"/>
<path d="M536.4,510.8 L568.4,493.2" fill="none"/>
<path d="M538.5,513.0 L570.0,495.5" fill="none"/>
<path d="M538.0,512.4 L634.0,563.6" fill="none"/>
<path d="M537.0,516.0 L633.0,567.5" fill="none"/>
<path d="M536.4,519.6 L632.4,573.2" fill="none"/>
<path d="M536.4,510.8 Q532,514 536.4,519.6" fill="none"/>
<path d="M574.8,492.4 L664.4,543.6" fill="none"/>
<path d="M634,563.6 Q637,559 664.8,547.3" fill="none"/>
<path d="M633,567.5 Q640,562 667.5,549" fill="none"/>
<path d="M632.4,573.2 L654.8,572.4" fill="none"/>
<path d="M655.8,573.6 Q645.5,605 651.6,641.1" fill="none"/>
<path d="M658.5,572 Q649,605 654.5,640" fill="none"/>
<path d="M573.2,523.6 L587.6,515.6 L627.6,536.4 L613.2,545.2Z" fill="none" stroke-width="1.1"/>
<path d="M576.0,523.5 L587.6,517.4 L624.0,536.4 L613.0,542.6Z" fill="none" stroke-width="0.8"/>
<path d="M578.5,524 L585,520 L591,523.5 L584.5,527.5Z M595,534.5 L603,530 L610.5,534.5 L602.5,539Z M606,541 L611,538 L615.5,540.5 L610.5,543.5Z M587,530 L591,527.5 L595.5,530 L591.5,532.5Z M591,526.5 L594,525 L597,526.5 L594,528Z" fill="#1a1a1a" stroke="none"/>
<path d="M609.5,538.5 L613.5,536.5 L617.5,539 L613.5,541Z" fill="#fff" stroke="#1a1a1a" stroke-width="1"/>
<circle cx="587.5" cy="517.8" r="1.5" fill="#111" stroke="none"/>
<circle cx="597.5" cy="524.5" r="1.8" fill="#111" stroke="none"/>
<circle cx="612.5" cy="531.5" r="2.2" fill="none" stroke-width="1.4"/>
<circle cx="584.0" cy="508.0" r="0.7" fill="#111" stroke="none"/>
<circle cx="583.0" cy="514.0" r="0.7" fill="#111" stroke="none"/>
<circle cx="570.0" cy="521.0" r="0.7" fill="#111" stroke="none"/>
<circle cx="618.0" cy="548.0" r="0.7" fill="#111" stroke="none"/>
<circle cx="629.0" cy="541.0" r="0.7" fill="#111" stroke="none"/>
<circle cx="637.0" cy="541.0" r="0.7" fill="#111" stroke="none"/>
<path d="M554,530 Q548,555 554,579.6" fill="none"/>
<path d="M557.5,530 Q551.5,555 557.5,578" fill="none"/>
<path d="M563.4,536.4 L563.4,573.4" fill="none"/>
<path d="M563.2,573.4 L543,585.5 Q540.5,587.5 541.3,590.4 Q543.5,592 549.8,591.5 L570.3,578.7 L563.2,573.4" fill="none"/>
<path d="M571.0,578.7 L571.0,587.2" fill="none"/>
<path d="M571,587.2 L561.1,592.9 L556.9,588.3" fill="none" stroke-width="1.2"/>
<ellipse cx="545.5" cy="597" rx="3.2" ry="4.2" fill="#1a1a1a" stroke="none" transform="rotate(25 545.5 597)"/>
<path d="M570.3,578.7 L646.5,620.8" fill="none"/>
<path d="M571.0,587.2 L641.4,628.0" fill="none"/>
<path d="M647.3,625.4 L629,635 Q626.8,637 627.4,640 Q629.5,641.5 635.4,640.7 L648.6,633.5" fill="none"/>
<path d="M641,637 L646,641 L651.6,641.1" fill="none" stroke-width="1.2"/>
<ellipse cx="631.2" cy="646.6" rx="3.2" ry="4.2" fill="#1a1a1a" stroke="none" transform="rotate(25 631.2 646.6)"/>
<circle cx="663.0" cy="610.0" r="1.0" fill="#111" stroke="none"/>
<circle cx="663.0" cy="568.0" r="1.0" fill="#111" stroke="none"/>
</g></svg></body></html>
